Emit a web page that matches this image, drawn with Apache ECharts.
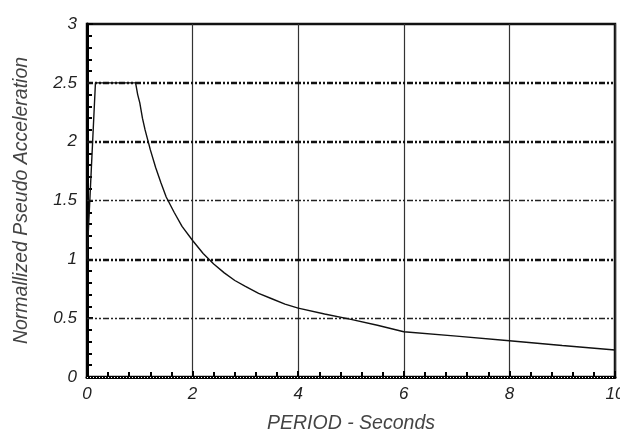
<!DOCTYPE html>
<html>
<head>
<meta charset="utf-8">
<script src="https://cdn.jsdelivr.net/npm/echarts@6/dist/echarts.min.js"></script>
<style>
  html, body { margin: 0; padding: 0; background: #fff; }
  #chart { width: 620px; height: 431px; }
</style>
</head>
<body>
<div id="chart"></div>
<script>
// Normalized design response spectrum: period (s) vs. normalized pseudo acceleration
const periods = [0, 0.16, 0.92, 0.96, 1.0, 1.05, 1.1, 1.2, 1.3, 1.4, 1.5, 1.65, 1.8, 2.0, 2.2, 2.4, 2.6, 2.8, 3.0, 3.25, 3.5, 3.75, 4.0, 4.5, 5.0, 5.5, 6.0, 7.0, 8.0, 9.0, 10.0];
const accel   = [1.0, 2.5, 2.5, 2.40, 2.33, 2.2, 2.1, 1.93, 1.78, 1.65, 1.53, 1.40, 1.28, 1.16, 1.05, 0.96, 0.885, 0.82, 0.77, 0.71, 0.665, 0.62, 0.585, 0.535, 0.49, 0.44, 0.385, 0.347, 0.308, 0.268, 0.229];

// Horizontal reference lines (heavy and light dash-dot pattern)
const heavyGridY = [1, 2, 2.5];
const lightGridY = [0.5, 1.5];

const xTicks = { min: 0, max: 10, interval: 2 };
const yTicks = { min: 0, max: 3, interval: 0.5 };

const xName = 'PERIOD - Seconds';
const yName = 'Normallized Pseudo Acceleration';

const font = 'Liberation Sans, Arial, sans-serif';
const dashDot = [6, 2, 2, 2, 2, 2];

const chart = echarts.init(document.getElementById('chart'), null, { renderer: 'canvas' });

const gridLines = heavyGridY.map(v => ({
  yAxis: v,
  lineStyle: { color: '#111', width: 2.4, type: dashDot }
})).concat(lightGridY.map(v => ({
  yAxis: v,
  lineStyle: { color: '#222', width: 1.3, type: dashDot }
})));

chart.setOption({
  animation: false,
  backgroundColor: '#fff',
  grid: {
    left: 87, right: 5, top: 24, bottom: 54,
    outerBoundsMode: 'none',
    containLabel: false,
    show: true, borderColor: '#111', borderWidth: 2.5
  },
  xAxis: {
    type: 'value',
    min: xTicks.min, max: xTicks.max, interval: xTicks.interval,
    name: xName,
    nameLocation: 'middle',
    nameGap: 37,
    nameTextStyle: { fontFamily: font, fontStyle: 'italic', fontSize: 19.5, color: '#444' },
    axisLine: { show: true, onZero: false, lineStyle: { color: '#000', width: 3 } },
    axisTick: { show: true, inside: true, length: 6, lineStyle: { color: '#000', width: 2 } },
    minorTick: { show: true, splitNumber: 5, length: 5, lineStyle: { color: '#000', width: 2 } },
    axisLabel: {
      margin: 9, fontFamily: font, fontStyle: 'italic', fontSize: 17, color: '#222',
      showMaxLabel: true, hideOverlap: false
    },
    splitLine: { show: true, lineStyle: { color: '#333', width: 1.2, type: 'solid' } }
  },
  yAxis: {
    type: 'value',
    min: yTicks.min, max: yTicks.max, interval: yTicks.interval,
    name: yName,
    nameLocation: 'middle',
    nameGap: 55,
    nameTextStyle: { fontFamily: font, fontStyle: 'italic', fontSize: 19.5, color: '#444' },
    axisLine: { show: true, onZero: false, lineStyle: { color: '#000', width: 3 } },
    axisTick: { show: true, inside: true, length: 6, lineStyle: { color: '#000', width: 2 } },
    minorTick: { show: true, splitNumber: 5, length: 5, lineStyle: { color: '#000', width: 2 } },
    axisLabel: {
      margin: 10, fontFamily: font, fontStyle: 'italic', fontSize: 17, color: '#222',
      padding: [0, 0, 11, 0],
      formatter: v => String(v)
    },
    splitLine: { show: false }
  },
  series: [
    {
      type: 'line',
      data: periods.map((t, i) => [t, accel[i]]),
      showSymbol: false,
      smooth: false,
      lineStyle: { color: '#111', width: 1.4 },
      z: 5,
      markLine: {
        silent: true,
        symbol: ['none', 'none'],
        label: { show: false },
        data: gridLines,
        z: 3
      }
    },
    {
      // white dotted pattern running along the base line
      type: 'line',
      data: [],
      markLine: {
        silent: true,
        symbol: ['none', 'none'],
        label: { show: false },
        data: [{ yAxis: 0, lineStyle: { color: '#fff', width: 1, type: [1, 2] } }],
        z: 6
      }
    }
  ]
});
</script>
</body>
</html>
